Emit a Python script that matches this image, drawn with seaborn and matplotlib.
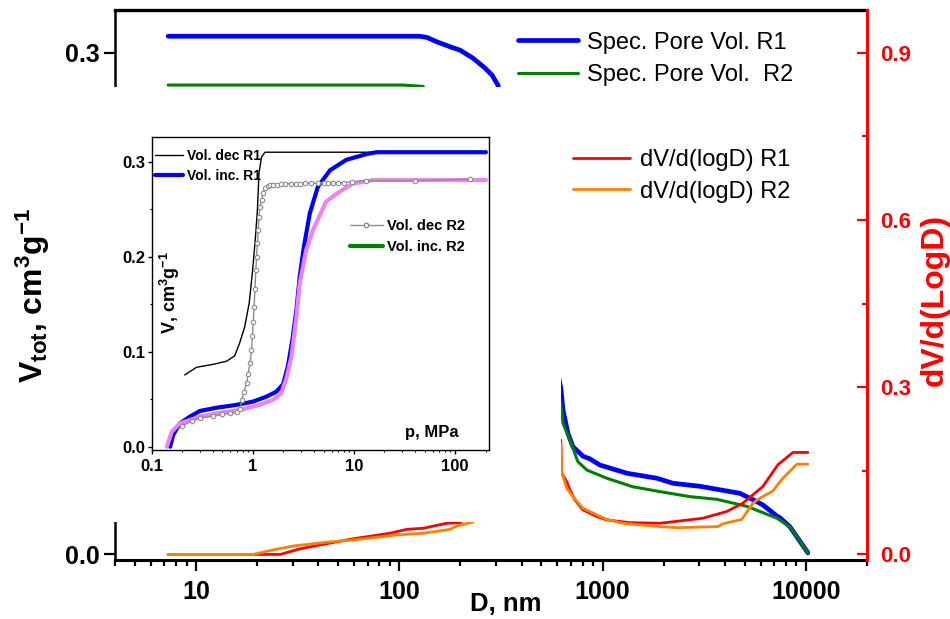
import numpy as np
import matplotlib
matplotlib.use("Agg")
import matplotlib.pyplot as plt
import seaborn as sns
from matplotlib.lines import Line2D
from matplotlib.patches import Rectangle
from matplotlib.ticker import (FixedLocator, FixedFormatter, LogLocator,
                               NullFormatter, MultipleLocator, FormatStrFormatter)

sns.set_style("ticks")
plt.rcParams["font.family"] = ["Liberation Sans", "DejaVu Sans"]
plt.rcParams.update({
    "font.weight": "bold",
    "axes.edgecolor": "black",
    "xtick.color": "black",
    "ytick.color": "black",
    "text.color": "black",
    "axes.labelcolor": "black",
    "mathtext.fontset": "custom",
    "mathtext.rm": "Liberation Sans:bold",
    "mathtext.it": "Liberation Sans:bold",
    "mathtext.bf": "Liberation Sans:bold",
})

# ---- main chart: cumulative specific pore volume vs pore diameter (nm) ----
D_R1 = [7.3, 126, 137, 153, 178, 199, 230, 264, 286, 306,
        624, 639, 676, 715, 801, 867, 971, 1318, 1852, 2220, 3014,
        4740, 5747, 6152, 7209, 7458, 8352, 10240]
V_R1 = [0.310, 0.310, 0.3093, 0.3067, 0.3037, 0.3017, 0.297, 0.291, 0.2868, 0.2808,
        0.0994, 0.0864, 0.0725, 0.0645, 0.0588, 0.0572, 0.0535, 0.0486, 0.0456, 0.0426, 0.0408,
        0.0366, 0.0316, 0.0296, 0.0230, 0.0220, 0.0166, 0.001]

D_R2 = [7.3, 104, 131, 624, 639, 691, 757, 838, 1051, 1411, 1917, 2691,
        3652, 5133, 7209, 8352, 10240]
V_R2 = [0.2808, 0.2808, 0.2800, 0.0904, 0.0785, 0.0685, 0.0555, 0.0505, 0.0456, 0.0405,
        0.0376, 0.0346, 0.0330, 0.0288, 0.0217, 0.0166, 0.001]

# ---- main chart: pore size distribution dV/d(logD) ----
D_dR1 = [7.3, 26, 32.5, 40.7, 59.2, 90, 109, 131, 172, 199,
         624, 629, 666, 691, 731, 801, 938, 1047, 1364, 1917, 2146, 3118,
         4077, 4905, 6152, 7292, 8641, 10240]
dV_R1 = [0.0, 0.0, 0.010, 0.017, 0.028, 0.038, 0.045, 0.047, 0.056, 0.057,
         0.205, 0.146, 0.131, 0.116, 0.098, 0.080, 0.068, 0.062, 0.057, 0.056, 0.058, 0.065,
         0.077, 0.092, 0.122, 0.161, 0.183, 0.183]

D_dR2 = [7.3, 19.1, 23.9, 30, 44.1, 59.2, 97.4, 131, 178, 192, 230,
         624, 629, 666, 715, 801, 938, 1047, 1257, 1528, 1917, 2323, 3696,
         3910, 4850, 5493, 5946, 6890, 7718, 9042, 10240]
dV_R2 = [0.0, 0.0, 0.008, 0.015, 0.022, 0.026, 0.035, 0.038, 0.045, 0.051, 0.058,
         0.200, 0.149, 0.119, 0.104, 0.083, 0.071, 0.063, 0.056, 0.053, 0.050, 0.048, 0.050,
         0.055, 0.063, 0.092, 0.101, 0.114, 0.137, 0.162, 0.162]

main_xticks = [10, 100, 1000, 10000]
main_xlabels = ["10", "100", "1000", "10000"]

# ---- inset: intrusion / extrusion volume vs pressure (MPa) ----
P_dec1 = [0.212, 0.278, 0.406, 0.55, 0.66, 0.74, 0.83, 0.92, 0.99, 1.05, 1.11,
          1.15, 1.22, 1.32, 9.8, 200]
V_dec1 = [0.0755, 0.0836, 0.0867, 0.090, 0.0955, 0.109, 0.126, 0.151, 0.183, 0.214, 0.249,
          0.288, 0.305, 0.310, 0.310, 0.310]

P_inc1 = [0.152, 0.163, 0.190, 0.239, 0.300, 0.438, 0.69, 1.0, 1.36, 1.71, 1.99, 2.22,
          2.46, 2.7, 2.91, 3.2, 3.66, 4.4, 5.8, 8.4, 13.3, 16.7, 202]
V_inc1 = [0.0, 0.0123, 0.0246, 0.0316, 0.0376, 0.041, 0.044, 0.0474, 0.0526, 0.0579, 0.0656,
          0.0842, 0.1123, 0.144, 0.179, 0.2105, 0.2457, 0.2737, 0.291, 0.302, 0.308, 0.310, 0.310]

P_dec2 = [0.20, 0.25, 0.30, 0.40, 0.50, 0.60, 0.70, 0.75, 0.78, 0.82, 0.87, 0.90, 0.94,
          0.97, 0.99, 1.01, 1.03, 1.05, 1.07, 1.09, 1.11, 1.13, 1.15, 1.18, 1.22, 1.27,
          1.32, 1.40, 1.47, 1.6, 1.75, 1.9, 2.1, 2.4, 2.7, 2.9, 3.3, 3.8, 4.4, 5.0, 5.6,
          6.2, 7.0, 8.0, 9.5, 13.3, 40, 139]
V_dec2 = [0.022, 0.027, 0.030, 0.032, 0.034, 0.035, 0.036, 0.040, 0.049, 0.058, 0.067,
          0.077, 0.088, 0.102, 0.116, 0.131, 0.147, 0.166, 0.186, 0.200, 0.214, 0.228,
          0.242, 0.252, 0.260, 0.267, 0.272, 0.274, 0.2755, 0.276, 0.276, 0.2765, 0.277,
          0.277, 0.277, 0.277, 0.2775, 0.2775, 0.2775, 0.278, 0.278, 0.278, 0.278, 0.278,
          0.279, 0.280, 0.280, 0.2815]

P_inc2 = [0.141, 0.158, 0.19, 0.3, 0.438, 0.74, 1.17, 1.59, 1.91, 2.15, 2.41, 2.7, 2.91,
          3.37, 3.94, 5.3, 7.2, 9.8, 15.5, 202]
V_inc2 = [0.0, 0.0158, 0.0246, 0.0316, 0.035, 0.0386, 0.044, 0.0492, 0.0562, 0.072,
          0.0947, 0.137, 0.172, 0.207, 0.228, 0.258, 0.2684, 0.277, 0.2807, 0.2807]

inset_xticks = [0.1, 1, 10, 100]
inset_xlabels = ["0.1", "1", "10", "100"]

BLUE, GREEN, RED, ORANGE, VIOLET, GREY = "#0000FF", "#008000", "#FF0000", "#FF8000", "#EE82EE", "#8C8C8C"

W, H = 950, 619
fig = plt.figure(figsize=(W / 100, H / 100), dpi=100)


def fx(px):
    return px / W


def fy(py):
    return 1 - py / H


# ---------------- main axes ----------------
ax = fig.add_axes([fx(115), fy(560), (867 - 115) / W, (560 - 10) / H])
ax2 = ax.twinx()

sns.lineplot(x=D_R1, y=V_R1, ax=ax, color=BLUE, linewidth=3.4, sort=False,
             estimator=None, legend=False)
sns.lineplot(x=D_R2, y=V_R2, ax=ax, color=GREEN, linewidth=2.2, sort=False,
             estimator=None, legend=False)
sns.lineplot(x=D_dR1, y=dV_R1, ax=ax2, color=RED, linewidth=2.0, sort=False,
             estimator=None, legend=False)
sns.lineplot(x=D_dR2, y=dV_R2, ax=ax2, color=ORANGE, linewidth=2.0, sort=False,
             estimator=None, legend=False)

ax.set_xscale("log")
ax.set_xlim(4, 20000)
ax.xaxis.set_major_locator(FixedLocator(main_xticks))
ax.xaxis.set_major_formatter(FixedFormatter(main_xlabels))
ax.xaxis.set_minor_locator(LogLocator(base=10, subs=np.arange(2, 10) * 1.0, numticks=20))
ax.xaxis.set_minor_formatter(NullFormatter())
ax.set_ylim(-0.0033, 0.3257)
ax.yaxis.set_major_locator(FixedLocator([0.0, 0.1, 0.2, 0.3]))
ax.yaxis.set_major_formatter(FormatStrFormatter("%.1f"))
ax2.set_ylim(-0.01, 0.977)
ax2.yaxis.set_major_locator(FixedLocator([0.0, 0.3, 0.6, 0.9]))
ax2.yaxis.set_minor_locator(MultipleLocator(0.15))
ax2.yaxis.set_major_formatter(FormatStrFormatter("%.1f"))
ax.set_xlabel("")
ax.set_ylabel("")
ax2.set_ylabel("")

for side, lw in (("top", 2.4), ("bottom", 2.2), ("left", 1.8)):
    ax.spines[side].set_linewidth(lw)
    ax.spines[side].set_color("black")
ax.spines["right"].set_visible(False)
for side in ("top", "bottom", "left"):
    ax2.spines[side].set_visible(False)
ax2.spines["right"].set_color(RED)
ax2.spines["right"].set_linewidth(2.2)

ax.tick_params(axis="x", which="major", direction="out", length=7.7, width=1.6,
               labelsize=18, pad=6.5)
ax.tick_params(axis="x", which="minor", direction="out", length=4.3, width=1.6)
ax.tick_params(axis="y", which="major", direction="out", length=7.7, width=1.6,
               labelsize=18, pad=3)
ax2.tick_params(axis="y", which="major", direction="in", length=7.2, width=1.6,
                colors=RED, labelsize=16, pad=9.4)
ax2.tick_params(axis="y", which="minor", direction="in", length=3.6, width=1.6, colors=RED)

# blank panel that holds the inset
fig.add_artist(Rectangle((0, fy(522)), fx(561), fy(87) - fy(522),
                         transform=fig.transFigure, facecolor="white",
                         edgecolor="none", zorder=1))

fig.text(fx(33), fy(295), r"V$_{tot}$, cm$^{3}$g$^{-1}$", rotation=90,
         ha="center", va="center", fontsize=23, zorder=3)
fig.text(fx(935), fy(300), "dV/d(LogD)", rotation=90, ha="center", va="center",
         fontsize=23, color=RED, zorder=3)
fig.text(fx(506), fy(604), "D, nm", ha="center", va="center", fontsize=18.5, zorder=3)

fig.legend(handles=[Line2D([], [], color=BLUE, lw=3.4), Line2D([], [], color=GREEN, lw=2.2)],
           labels=["Spec. Pore Vol. R1", "Spec. Pore Vol.  R2"],
           loc="center left", bbox_to_anchor=(fx(518), fy(59)), bbox_transform=fig.transFigure,
           prop={"size": 17, "weight": "normal"}, frameon=False, borderpad=0,
           borderaxespad=0, handlelength=2.54, handletextpad=0.38, labelspacing=0.45)
fig.legend(handles=[Line2D([], [], color=RED, lw=2.0), Line2D([], [], color=ORANGE, lw=2.0)],
           labels=["dV/d(logD) R1", "dV/d(logD) R2"],
           loc="center left", bbox_to_anchor=(fx(573), fy(176)), bbox_transform=fig.transFigure,
           prop={"size": 17, "weight": "normal"}, frameon=False, borderpad=0,
           borderaxespad=0, handlelength=2.42, handletextpad=0.42, labelspacing=0.4)

# ---------------- inset ----------------
axi = fig.add_axes([fx(151.7), fy(450), (489.3 - 151.7) / W, (450 - 137.3) / H])
axi.set_zorder(2)
axi.set_facecolor("white")

sns.lineplot(x=P_dec1, y=V_dec1, ax=axi, color="black", linewidth=1.0, sort=False,
             estimator=None, legend=False)
sns.lineplot(x=P_inc1, y=V_inc1, ax=axi, color=BLUE, linewidth=3.0, sort=False,
             estimator=None, legend=False)
sns.lineplot(x=P_inc2, y=V_inc2, ax=axi, color=VIOLET, linewidth=3.0, sort=False,
             estimator=None, legend=False)
sns.lineplot(x=P_dec2, y=V_dec2, ax=axi, color=GREY, linewidth=1.0, sort=False,
             estimator=None, legend=False, marker="o", markersize=3.2,
             markerfacecolor="white", markeredgecolor=GREY, markeredgewidth=0.8)

axi.set_xscale("log")
axi.set_xlim(0.1, 218)
axi.set_ylim(-0.0035, 0.3257)
axi.xaxis.set_major_locator(FixedLocator(inset_xticks))
axi.xaxis.set_major_formatter(FixedFormatter(inset_xlabels))
axi.xaxis.set_minor_locator(LogLocator(base=10, subs=np.arange(2, 10) * 1.0, numticks=20))
axi.xaxis.set_minor_formatter(NullFormatter())
axi.yaxis.set_major_locator(FixedLocator([0.0, 0.1, 0.2, 0.3]))
axi.yaxis.set_minor_locator(MultipleLocator(0.05))
axi.yaxis.set_major_formatter(FormatStrFormatter("%.1f"))
axi.set_xlabel("")
axi.set_ylabel("")
for side in ("top", "bottom", "left", "right"):
    axi.spines[side].set_visible(True)
    axi.spines[side].set_linewidth(1.0)
    axi.spines[side].set_color("black")
axi.tick_params(axis="both", which="major", direction="out", length=3, width=1,
                labelsize=12)
axi.tick_params(axis="both", which="minor", direction="out", length=1.6, width=0.8)
axi.tick_params(axis="x", which="major", pad=3.5)
axi.tick_params(axis="y", which="major", pad=1.5)

axi.text(fx(432), fy(432), "p, MPa", transform=fig.transFigure, ha="center",
         va="center", fontsize=12)
axi.text(fx(170), fy(293), r"V, cm$^{3}$g$^{-1}$", transform=fig.transFigure,
         rotation=90, ha="center", va="center", fontsize=13)

leg1 = axi.legend(handles=[Line2D([], [], color="black", lw=1.0),
                           Line2D([], [], color=BLUE, lw=3.0)],
                  labels=["Vol. dec R1", "Vol. inc. R1"],
                  loc="center left", bbox_to_anchor=(fx(155), fy(166)),
                  bbox_transform=fig.transFigure, prop={"size": 10, "weight": "bold"},
                  frameon=False, borderpad=0, borderaxespad=0, handlelength=2.0,
                  handletextpad=0.3, labelspacing=0.45)
axi.add_artist(leg1)
axi.legend(handles=[Line2D([], [], color=GREY, lw=1.0, marker="o", markersize=3.2,
                           markerfacecolor="white", markeredgecolor=GREY),
                    Line2D([], [], color=GREEN, lw=3.0)],
           labels=["Vol. dec R2", "Vol. inc. R2"], numpoints=1,
           loc="center left", bbox_to_anchor=(fx(350), fy(236.7)),
           bbox_transform=fig.transFigure, prop={"size": 10.5, "weight": "bold"},
           frameon=False, borderpad=0, borderaxespad=0, handlelength=2.25,
           handletextpad=0.3, labelspacing=0.5)

fig.savefig("out.png", dpi=100)
